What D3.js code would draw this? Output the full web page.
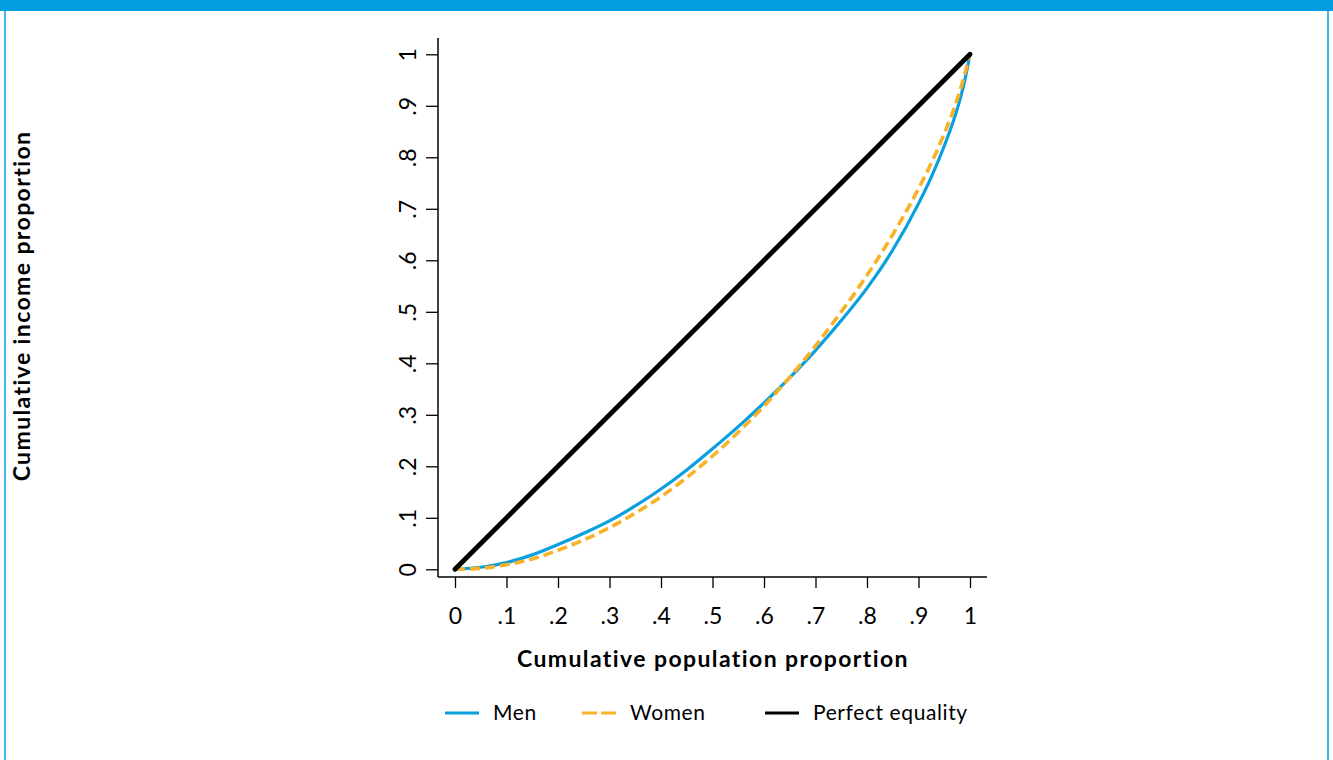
<!DOCTYPE html>
<html>
<head>
<meta charset="utf-8">
<script src="https://cdn.jsdelivr.net/npm/d3@7"></script>
<style>
  html, body { margin: 0; padding: 0; background: #ffffff; }
  svg { display: block; }
  text { font-family: Lato, "Open Sans", sans-serif; fill: #000; }
</style>
</head>
<body>
<svg id="chart" width="1333" height="760"></svg>
<script>
// Cumulative population share (x) for the Lorenz curves
const popShare = [0, 0.05, 0.1, 0.15, 0.2, 0.25, 0.3, 0.35, 0.4, 0.45, 0.5, 0.55, 0.6,
                  0.65, 0.7, 0.75, 0.8, 0.85, 0.9, 0.925, 0.95, 0.975, 0.99, 1];
// Cumulative income share, men
const menIncome = [0, 0.004, 0.013, 0.028, 0.048, 0.070, 0.094, 0.123, 0.156, 0.193, 0.234, 0.277, 0.323,
                   0.372, 0.425, 0.483, 0.546, 0.620, 0.710, 0.762, 0.822, 0.893, 0.950, 1];
// Cumulative income share, women
const womenIncome = [0, 0.002, 0.009, 0.020, 0.037, 0.057, 0.081, 0.109, 0.141, 0.178, 0.220, 0.266, 0.317,
                     0.373, 0.434, 0.500, 0.571, 0.650, 0.739, 0.789, 0.846, 0.912, 0.962, 1];
// Line of perfect equality
const equalityX = [0, 1];
const equalityY = [0, 1];

const tickValues = [0, 0.1, 0.2, 0.3, 0.4, 0.5, 0.6, 0.7, 0.8, 0.9, 1];
const tickLabels = ["0", ".1", ".2", ".3", ".4", ".5", ".6", ".7", ".8", ".9", "1"];

const seriesNames = ["Men", "Women", "Perfect equality"];
const seriesColors = ["#0a9fde", "#f7b228", "#000000"];

const svg = d3.select("#chart");
const W = 1333, H = 760;
const frameBlue = "#009ee0";

// Page frame and header band
svg.append("rect").attr("x", 5).attr("y", 0).attr("width", W - 10).attr("height", H + 5)
  .attr("fill", "none").attr("stroke", frameBlue).attr("stroke-width", 1.5);
svg.append("rect").attr("x", 0).attr("y", 0).attr("width", W).attr("height", 11)
  .attr("fill", frameBlue);

// Scales
const x = d3.scaleLinear().domain([0, 1]).range([455, 970]);
const y = d3.scaleLinear().domain([0, 1]).range([569.3, 54.3]);
const axisY = 577;   // vertical position of the x axis line
const axisX = 438;   // horizontal position of the y axis line

const fmt = d => tickLabels[tickValues.indexOf(d)];

// X axis
const gx = svg.append("g").attr("transform", `translate(0,${axisY})`)
  .call(d3.axisBottom(x).tickValues(tickValues).tickFormat(fmt).tickSize(11).tickSizeOuter(0));
gx.select(".domain").remove();
gx.selectAll(".tick line").attr("stroke", "#000").attr("stroke-width", 1.3);
gx.selectAll(".tick text").attr("y", 0).attr("dy", null)
  .attr("transform", "translate(0,47)")
  .style("font-size", "23px").style("font-family", "Lato, sans-serif");
svg.append("line").attr("x1", axisX).attr("x2", 987).attr("y1", axisY).attr("y2", axisY)
  .attr("stroke", "#000").attr("stroke-width", 1.5);

// Y axis
const gy = svg.append("g").attr("transform", `translate(${axisX},0)`)
  .call(d3.axisLeft(y).tickValues(tickValues).tickFormat(fmt).tickSize(12).tickSizeOuter(0));
gy.select(".domain").remove();
gy.selectAll(".tick line").attr("stroke", "#000").attr("stroke-width", 1.3);
gy.selectAll(".tick text")
  .attr("x", null).attr("dy", null).attr("y", 0)
  .attr("text-anchor", "middle")
  .attr("transform", "translate(-22,0) rotate(-90)")
  .style("font-size", "23px").style("font-family", "Lato, sans-serif");
svg.append("line").attr("x1", axisX).attr("x2", axisX).attr("y1", 38).attr("y2", axisY)
  .attr("stroke", "#000").attr("stroke-width", 1.5);

// Axis titles
svg.append("text").attr("x", 713).attr("y", 667)
  .attr("text-anchor", "middle")
  .style("font-weight", "bold").style("font-size", "23px").style("letter-spacing", "1.4px")
  .text("Cumulative population proportion");
svg.append("text")
  .attr("transform", "translate(30,306) rotate(-90)")
  .attr("text-anchor", "middle")
  .style("font-weight", "bold").style("font-size", "23px").style("letter-spacing", "1.4px")
  .text("Cumulative income proportion");

// Curves
const line = d3.line().x(d => x(d[0])).y(d => y(d[1])).curve(d3.curveMonotoneX);
const menData = popShare.map((p, i) => [p, menIncome[i]]);
const womenData = popShare.map((p, i) => [p, womenIncome[i]]);
const eqData = equalityX.map((p, i) => [p, equalityY[i]]);

svg.append("path").datum(menData).attr("d", line)
  .attr("fill", "none").attr("stroke", seriesColors[0]).attr("stroke-width", 3.2);
svg.append("path").datum(womenData).attr("d", line)
  .attr("fill", "none").attr("stroke", seriesColors[1]).attr("stroke-width", 3.6)
  .attr("stroke-dasharray", "10,5");
svg.append("path").datum(eqData).attr("d", d3.line().x(d => x(d[0])).y(d => y(d[1])))
  .attr("fill", "none").attr("stroke", seriesColors[2]).attr("stroke-width", 4.8)
  .attr("stroke-linecap", "round");

// Legend
const legendY = 713;
const legendItems = [
  { name: seriesNames[0], color: seriesColors[0], dash: null, x0: 445 },
  { name: seriesNames[1], color: seriesColors[1], dash: "15,4", x0: 582 },
  { name: seriesNames[2], color: seriesColors[2], dash: null, x0: 765 }
];
const lg = svg.append("g");
legendItems.forEach(it => {
  lg.append("line").attr("x1", it.x0).attr("x2", it.x0 + 34)
    .attr("y1", legendY).attr("y2", legendY)
    .attr("stroke", it.color).attr("stroke-width", 3)
    .attr("stroke-dasharray", it.dash);
  lg.append("text").attr("x", it.x0 + 48).attr("y", legendY + 7)
    .style("font-size", "21px").style("letter-spacing", "0.6px")
    .text(it.name);
});
</script>
</body>
</html>
